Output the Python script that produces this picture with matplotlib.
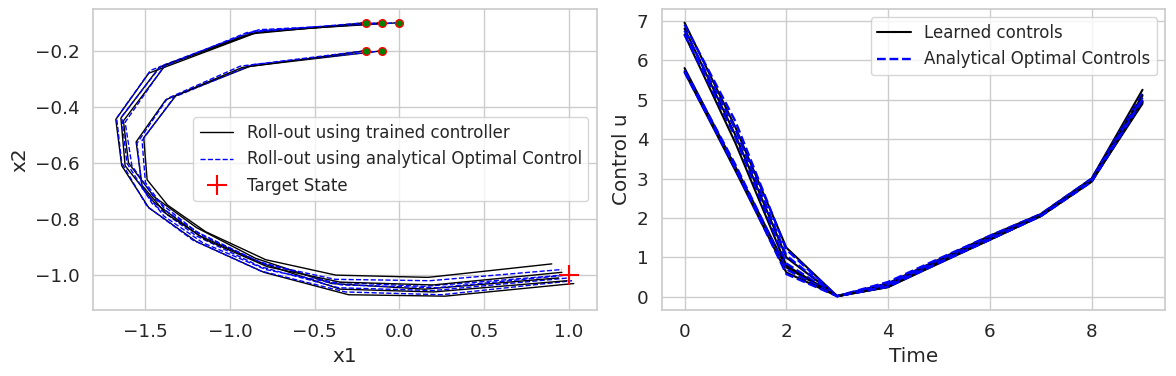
import matplotlib
matplotlib.use("Agg")
import matplotlib.pyplot as plt
from matplotlib.ticker import MultipleLocator
import seaborn as sns

sns.set_theme(style="whitegrid", font_scale=1.2)

# initial states of the 5 roll-outs
starts_x1 = [0.0, -0.1, -0.2, -0.1, -0.2]
starts_x2 = [-0.1, -0.1, -0.1, -0.2, -0.2]

# roll-outs with trained controller (x1, x2 per step)
learned_x1 = [
    [0.0, -0.82, -1.48, -1.675, -1.64, -1.48, -1.20, -0.80, -0.30, 0.27, 1.03],
    [-0.1, -0.85, -1.42, -1.645, -1.62, -1.45, -1.18, -0.80, -0.35, 0.20, 0.99],
    [-0.2, -0.88, -1.38, -1.63, -1.60, -1.45, -1.20, -0.85, -0.40, 0.15, 0.94],
    [-0.1, -0.88, -1.32, -1.51, -1.49, -1.37, -1.145, -0.79, -0.375, 0.17, 0.90],
    [-0.2, -0.93, -1.38, -1.555, -1.52, -1.38, -1.14, -0.78, -0.35, 0.20, 0.96],
]
learned_x2 = [
    [-0.1, -0.13, -0.28, -0.445, -0.61, -0.76, -0.88, -0.99, -1.07, -1.075, -1.03],
    [-0.1, -0.135, -0.26, -0.44, -0.61, -0.74, -0.86, -0.96, -1.05, -1.06, -1.02],
    [-0.1, -0.14, -0.25, -0.45, -0.60, -0.72, -0.83, -0.94, -1.03, -1.05, -1.01],
    [-0.2, -0.255, -0.36, -0.51, -0.66, -0.75, -0.845, -0.945, -1.00, -1.008, -0.96],
    [-0.2, -0.26, -0.375, -0.525, -0.68, -0.78, -0.875, -0.97, -1.025, -1.035, -0.99],
]

# roll-outs with analytical optimal control
optimal_x1 = [
    [0.0, -0.83, -1.47, -1.67, -1.64, -1.49, -1.22, -0.82, -0.32, 0.25, 1.02],
    [-0.1, -0.86, -1.41, -1.64, -1.61, -1.46, -1.20, -0.82, -0.36, 0.20, 1.00],
    [-0.2, -0.90, -1.39, -1.62, -1.58, -1.44, -1.20, -0.84, -0.40, 0.15, 0.97],
    [-0.1, -0.87, -1.33, -1.52, -1.50, -1.38, -1.16, -0.80, -0.38, 0.18, 0.96],
    [-0.2, -0.94, -1.37, -1.55, -1.52, -1.39, -1.16, -0.79, -0.34, 0.22, 0.99],
]
optimal_x2 = [
    [-0.1, -0.125, -0.27, -0.44, -0.60, -0.755, -0.875, -0.985, -1.06, -1.07, -1.02],
    [-0.1, -0.13, -0.255, -0.435, -0.60, -0.745, -0.86, -0.97, -1.045, -1.055, -1.01],
    [-0.1, -0.135, -0.255, -0.455, -0.61, -0.73, -0.845, -0.95, -1.025, -1.04, -1.00],
    [-0.2, -0.25, -0.365, -0.52, -0.67, -0.77, -0.86, -0.96, -1.015, -1.02, -0.98],
    [-0.2, -0.255, -0.37, -0.53, -0.69, -0.79, -0.885, -0.98, -1.035, -1.045, -1.00],
]

target_x1, target_x2 = 1.0, -1.0

# controls over time
time = [0, 1, 2, 3, 4, 5, 6, 7, 8, 9]
learned_u = [
    [6.95, 4.30, 1.25, 0.02, 0.35, 0.95, 1.55, 2.10, 3.00, 5.25],
    [6.80, 4.10, 1.00, 0.02, 0.30, 0.92, 1.50, 2.08, 2.98, 5.10],
    [6.65, 3.90, 0.80, 0.02, 0.28, 0.90, 1.48, 2.06, 2.95, 4.95],
    [5.80, 3.30, 0.75, 0.02, 0.25, 0.88, 1.45, 2.05, 2.93, 4.90],
    [5.70, 3.20, 0.62, 0.02, 0.25, 0.85, 1.45, 2.05, 2.92, 4.95],
]
optimal_u = [
    [6.90, 4.45, 1.20, 0.02, 0.38, 0.97, 1.55, 2.10, 3.00, 5.15],
    [6.75, 4.25, 1.05, 0.02, 0.33, 0.93, 1.50, 2.08, 2.98, 5.05],
    [6.65, 4.05, 0.85, 0.02, 0.30, 0.90, 1.48, 2.06, 2.95, 5.00],
    [5.75, 3.35, 0.70, 0.02, 0.27, 0.88, 1.46, 2.05, 2.93, 4.95],
    [5.70, 3.25, 0.58, 0.02, 0.26, 0.86, 1.45, 2.05, 2.92, 5.00],
]

fig, (ax1, ax2) = plt.subplots(1, 2, figsize=(11.76, 3.76), dpi=100)
fig.subplots_adjust(left=0.079, right=0.991, bottom=0.176, top=0.976, wspace=0.129)

for i in range(len(learned_x1)):
    ax1.plot(learned_x1[i], learned_x2[i], color="black", lw=1,
             label="Roll-out using trained controller" if i == 0 else None)
    ax1.plot(optimal_x1[i], optimal_x2[i], color="blue", ls="--", lw=1,
             label="Roll-out using analytical Optimal Control" if i == 0 else None)
ax1.plot(starts_x1, starts_x2, "o", color="green", markeredgecolor="red",
         markersize=5.5, ls="none")
ax1.plot(target_x1, target_x2, "+", color="red", markersize=15, mew=1.5,
         ls="none", label="Target State")
ax1.set_xlabel("x1")
ax1.set_ylabel("x2")
ax1.legend(loc="center right", fontsize=12)

for i in range(len(learned_u)):
    ax2.plot(time, learned_u[i], color="black",
             label="Learned controls" if i == 0 else None)
    ax2.plot(time, optimal_u[i], color="blue", ls="--", lw=1.7,
             label="Analytical Optimal Controls" if i == 0 else None)
ax2.yaxis.set_major_locator(MultipleLocator(1))
ax2.set_xlabel("Time")
ax2.set_ylabel("Control u")
ax2.legend(loc="upper right", fontsize=12)

plt.savefig("out.png")
